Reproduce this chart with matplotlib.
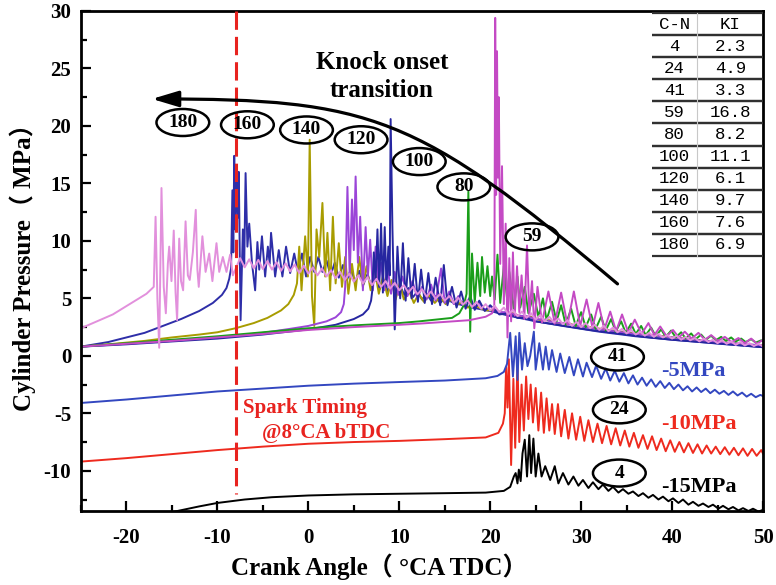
import numpy as np
import matplotlib
matplotlib.use("Agg")
import matplotlib.pyplot as plt
from matplotlib.patches import Ellipse, FancyArrowPatch
from matplotlib.path import Path

plt.rcParams['font.family'] = ['Liberation Serif', 'Noto Sans CJK SC']
plt.rcParams['font.weight'] = 'bold'
plt.rcParams['axes.labelweight'] = 'bold'
plt.rcParams['axes.unicode_minus'] = False

# ---- knock summary: cycle number and knock intensity ----
cycles = [4, 24, 41, 59, 80, 100, 120, 140, 160, 180]
knock_index = [2.3, 4.9, 3.3, 16.8, 8.2, 11.1, 6.1, 9.7, 7.6, 6.9]

spark_angle = -8   # spark timing, deg CA
shift = {4: -15, 24: -10, 41: -5}   # display offsets, MPa

# ---- pressure traces: (crank angle, MPa) ----
p180 = [(-25, 2.4), (-21.5, 3.6), (-17.8, 5.4), (-17.0, 6.0), (-16.8, 12.1), (-16.6, 5.0), (-16.4, 0.7),
        (-16.15, 14.6), (-15.9, 6.0), (-15.67, 3.7), (-15.45, 8.0), (-15.3, 9.5), (-15.05, 6.5), (-14.8, 10.9),
        (-14.6, 5.5), (-14.43, 3.1), (-14.2, 10.2), (-14.0, 6.5), (-13.77, 5.7), (-13.5, 11.7), (-13.25, 7.0),
        (-13.04, 6.6), (-12.7, 9.0), (-12.38, 12.7), (-12.2, 7.5), (-12.05, 6.0), (-11.65, 10.4), (-11.3, 7.3),
        (-10.9, 8.9), (-10.55, 6.5), (-10.1, 9.8), (-9.8, 7.3), (-9.4, 8.6), (-9.0, 7.3), (-8.6, 8.8),
        (-8.3, 7.0), (-7.5, 8.5), (-7, 7.7), (-6.5, 8.4), (-6, 7.6), (-5.5, 8.35), (-5, 7.55), (-4.5, 8.25),
        (-4, 7.5), (-3.5, 8.15), (-3, 7.4), (-2.5, 8.05), (-2, 7.35), (-1.5, 7.95), (-1, 7.2), (-0.5, 7.85),
        (0, 7.15), (0.5, 7.7), (1, 7.0), (1.5, 7.6), (2, 6.9), (2.5, 7.45), (3, 6.75), (3.5, 7.3), (4, 6.6),
        (4.5, 7.15), (5, 6.45), (5.5, 7.0), (6, 6.3), (6.5, 6.85), (7, 6.15), (7.5, 6.7), (8, 6.0),
        (8.5, 6.5), (9, 5.85), (9.5, 6.35), (10, 5.7), (10.5, 6.15), (11, 5.5), (11.5, 6.0), (12, 5.35),
        (12.5, 5.8), (13, 5.15), (13.5, 5.6), (14, 4.95), (14.5, 5.4), (15, 4.8), (15.5, 5.2), (16, 4.6),
        (16.5, 5.05), (17, 4.45), (17.5, 4.85), (18, 4.25), (18.5, 4.7), (19, 4.1), (19.5, 4.5), (20, 3.95),
        (20.5, 4.35), (21, 3.8), (21.5, 4.2), (22, 3.6), (22.5, 4.0), (23, 3.45), (23.5, 3.85), (24, 3.3),
        (24.5, 3.7), (25, 3.15), (25.5, 3.55), (26, 3.0), (26.5, 3.4), (27, 2.9), (27.5, 3.25), (28, 2.75),
        (28.5, 3.1), (29, 2.6), (29.5, 2.95), (30, 2.5), (30.5, 2.85), (31, 2.4), (31.5, 2.7), (32, 2.25),
        (32.5, 2.6), (33, 2.15), (33.5, 2.45), (34, 2.05), (34.5, 2.35), (35, 1.95), (35.5, 2.25), (36, 1.85),
        (36.5, 2.1), (37, 1.75), (37.5, 2.0), (38, 1.65), (38.5, 1.9), (39, 1.6), (39.5, 1.8), (40, 1.5),
        (40.5, 1.75), (41, 1.4), (41.5, 1.65), (42, 1.35), (42.5, 1.55), (43, 1.25), (43.5, 1.5), (44, 1.2),
        (44.5, 1.4), (45, 1.1), (45.5, 1.35), (46, 1.05), (46.5, 1.25), (47, 0.95), (47.5, 1.2), (48, 0.9),
        (48.5, 1.1), (49, 0.85), (49.5, 1.05), (50, 0.8)]

p160 = [(-25, 0.8), (-22, 1.2), (-20, 1.6), (-18, 2.0), (-16, 2.6), (-14, 3.2), (-12, 3.9), (-10.5, 4.6),
        (-9.5, 5.3), (-9.0, 5.9), (-8.7, 6.7), (-8.5, 7.6), (-8.35, 14.4), (-8.25, 9.0), (-8.15, 17.4),
        (-8.05, 11.0), (-7.9, 16.5), (-7.78, 12.0), (-7.65, 16.0), (-7.45, 3.1), (-7.2, 11.0), (-7.05, 8.0),
        (-6.9, 15.9), (-6.7, 9.5), (-6.5, 11.5), (-6.2, 8.1), (-5.85, 5.7), (-5.6, 9.9), (-5.4, 7.5),
        (-5.1, 10.4), (-4.75, 6.9), (-4.45, 9.5), (-4.25, 8.0), (-4.1, 10.7), (-3.65, 6.9), (-3.25, 9.2),
        (-2.85, 6.9), (-2.45, 9.5), (-2.0, 7.2), (-1.55, 8.9), (-1.15, 7.3), (-0.7, 8.9), (-0.25, 6.9),
        (0.2, 8.6), (0.65, 7.3), (1.1, 8.6), (1.55, 7.3), (2.0, 8.3), (2.45, 7.0), (2.9, 8.1), (3.35, 6.8),
        (3.8, 7.9), (4.25, 6.6), (4.7, 7.6), (5.15, 6.4), (5.6, 7.4), (6.05, 6.2), (6.5, 7.1), (6.95, 6.0),
        (7.4, 6.9), (7.85, 5.8), (8.3, 6.6), (8.75, 5.6), (9.2, 6.3), (9.65, 5.5), (10.1, 6.1), (10.55, 5.3),
        (11.0, 5.9), (11.5, 5.1), (12.0, 5.6), (12.5, 4.9), (13.0, 5.4), (13.5, 4.8), (14.0, 5.2), (14.5, 4.6),
        (15.0, 5.0), (16.0, 4.6), (17.0, 4.4), (18.0, 4.2), (20, 3.9), (22, 3.5), (25, 3.0), (28, 2.6),
        (32, 2.1), (36, 1.7), (40, 1.4), (44, 1.15), (47, 0.95), (50, 0.75)]

p140 = [(-25, 0.8), (-22, 1.0), (-20, 1.15), (-18, 1.3), (-15, 1.6), (-12, 1.85), (-10, 2.05), (-8, 2.4),
        (-6, 2.85), (-4.5, 3.3), (-3, 3.95), (-2.2, 4.5), (-1.6, 5.3), (-1.25, 6.3), (-1.0, 9.5), (-0.75, 5.7),
        (-0.35, 10.4), (-0.05, 6.9), (0.15, 18.8), (0.4, 5.2), (0.65, 2.6), (0.9, 11.0), (1.2, 8.6),
        (1.55, 13.3), (1.85, 6.9), (2.1, 10.7), (2.4, 5.7), (2.7, 12.1), (3.0, 6.3), (3.35, 9.8), (3.7, 6.0),
        (4.05, 8.6), (4.4, 5.4), (4.8, 8.0), (5.2, 5.7), (5.6, 8.6), (6.0, 6.0), (6.4, 7.8), (6.85, 5.7),
        (7.3, 7.5), (7.75, 5.4), (8.2, 6.9), (8.7, 5.2), (9.15, 6.6), (9.6, 4.9), (10.05, 6.3), (10.5, 4.9),
        (11.05, 5.7), (11.6, 4.6), (12.15, 5.4), (12.7, 4.7), (13.3, 5.3), (13.9, 4.6), (14.5, 5.1),
        (15.1, 4.5), (15.7, 4.9), (16.3, 4.4), (16.9, 4.7), (17.5, 4.2), (18.5, 4.3), (19.5, 3.95),
        (20.5, 4.0), (21.5, 3.7), (22.5, 3.7), (23.5, 3.4), (24.5, 3.4), (25.5, 3.1), (26.5, 3.1),
        (27.5, 2.85), (28.5, 2.85), (29.5, 2.6), (31, 2.5), (32.5, 2.3), (34, 2.15), (35.5, 2.0), (37, 1.85),
        (38.5, 1.75), (40, 1.6), (42, 1.45), (44, 1.3), (46, 1.15), (48, 1.0), (50, 0.9)]

p120 = [(-25, 0.8), (-20, 1.05), (-15, 1.3), (-10, 1.6), (-5, 2.0), (-2, 2.35), (0, 2.6), (2, 3.0),
        (3, 3.35), (3.6, 3.8), (3.9, 4.5), (4.05, 6.0), (4.15, 9.2), (4.3, 14.7), (4.55, 6.9), (4.8, 13.6),
        (5.0, 9.2), (5.2, 15.6), (5.45, 8.1), (5.7, 12.1), (6.0, 5.7), (6.3, 11.2), (6.55, 6.9), (6.8, 10.1),
        (7.1, 5.7), (7.4, 9.5), (7.7, 6.3), (8.0, 8.1), (8.35, 5.7), (8.7, 7.8), (9.1, 5.4), (9.5, 7.3),
        (9.9, 5.3), (10.35, 6.9), (10.9, 5.2), (11.45, 6.5), (12.0, 5.0), (12.5, 6.0), (13.0, 4.9),
        (13.5, 6.2), (14.0, 4.8), (14.6, 7.6), (15.0, 4.6), (15.5, 5.6), (16.0, 4.5), (16.5, 5.2), (17.0, 4.4),
        (17.6, 4.9), (18.2, 4.2), (18.8, 4.6), (19.4, 4.0), (20.0, 4.3), (21, 3.8), (22, 3.8), (23, 3.5),
        (24, 3.45), (25, 3.2), (26, 3.15), (27, 2.9), (28, 2.85), (30, 2.55), (32, 2.3), (34, 2.1),
        (36, 1.9), (38, 1.75), (40, 1.6), (43, 1.35), (46, 1.15), (50, 0.9)]

p100 = [(-25, 0.8), (-20, 1.0), (-15, 1.25), (-10, 1.5), (-5, 1.85), (0, 2.3), (3, 2.7), (5, 3.2),
        (6, 3.6), (6.6, 4.1), (6.9, 4.8), (7.05, 5.8), (7.2, 9.0), (7.4, 6.5), (7.6, 11.0), (7.8, 6.0),
        (8.0, 11.5), (8.2, 5.5), (8.4, 11.2), (8.6, 6.0), (8.8, 9.5), (8.95, 7.0), (9.05, 20.6), (9.25, 11.0),
        (9.5, 2.3), (9.8, 9.5), (10.1, 5.0), (10.4, 9.8), (10.7, 4.8), (11.0, 8.5), (11.35, 5.0), (11.7, 8.0),
        (12.05, 4.7), (12.4, 7.5), (12.8, 4.6), (13.2, 7.2), (13.6, 4.5), (14.0, 6.8), (14.5, 4.4),
        (14.9, 7.9), (15.3, 4.4), (15.8, 6.0), (16.3, 4.2), (16.8, 5.6), (17.3, 4.1), (17.8, 5.2), (18.3, 4.0),
        (18.8, 4.8), (19.4, 3.9), (20.0, 4.4), (21, 3.6), (22, 3.7), (23, 3.3), (24, 3.3), (25, 3.0),
        (27, 2.75), (29, 2.5), (31, 2.25), (34, 1.95), (37, 1.65), (40, 1.4), (43, 1.2), (46, 1.0), (50, 0.75)]

p80 = [(-25, 0.8), (-20, 1.1), (-15, 1.4), (-10, 1.7), (-5, 2.05), (0, 2.4), (5, 2.65), (10, 2.85),
       (12.2, 3.0), (15.8, 3.3), (16.6, 3.7), (17.1, 4.4), (17.4, 5.4), (17.6, 14.3), (17.8, 2.1), (18.0, 8.9),
       (18.3, 4.6), (18.6, 8.1), (18.9, 5.2), (19.1, 8.6), (19.4, 5.5), (19.7, 7.8), (20.0, 5.2), (20.2, 6.9),
       (20.5, 4.9), (20.8, 8.8), (21.1, 4.6), (21.5, 7.8), (21.9, 4.6), (22.1, 7.3), (22.6, 4.0), (23.0, 6.9),
       (23.3, 4.2), (23.8, 6.0), (24.2, 3.7), (24.8, 5.4), (25.3, 3.4), (25.8, 5.0), (26.2, 3.1), (26.8, 4.7),
       (27.3, 3.0), (27.8, 4.4), (28.3, 2.7), (28.9, 4.1), (29.4, 2.6), (30.0, 3.8), (30.5, 2.5), (31.1, 3.6),
       (31.6, 2.35), (32.2, 3.4), (32.7, 2.2), (33.3, 3.2), (33.8, 2.1), (34.4, 3.0), (34.9, 2.0), (35.5, 2.8),
       (36.0, 1.9), (36.6, 2.6), (37.1, 1.8), (37.7, 2.45), (38.2, 1.7), (38.8, 2.3), (39.3, 1.65),
       (39.9, 2.2), (40.4, 1.6), (41.0, 2.05), (41.5, 1.5), (42.1, 1.95), (42.6, 1.45), (43.2, 1.85),
       (43.7, 1.4), (44.3, 1.75), (44.8, 1.35), (45.4, 1.65), (45.9, 1.3), (46.5, 1.6), (47.0, 1.25),
       (47.6, 1.5), (48.1, 1.2), (48.7, 1.45), (49.2, 1.15), (49.8, 1.35), (50, 1.3)]

p59 = [(-25, 0.8), (-20, 1.05), (-15, 1.3), (-10, 1.6), (-5, 1.9), (0, 2.25), (5, 2.5), (10, 2.7),
       (12.2, 2.8), (15, 2.95), (17.7, 3.1), (19.5, 3.4), (20.2, 3.7), (20.45, 4.2), (20.55, 29.4),
       (20.65, 14.0), (20.75, 26.5), (20.85, 15.5), (20.95, 22.5), (21.1, 8.0), (21.3, 16.5), (21.5, 4.5),
       (21.7, 11.5), (21.9, 1.6), (22.1, 8.5), (22.3, 3.0), (22.5, 9.0), (22.7, 3.5), (22.95, 7.8),
       (23.2, 3.8), (23.45, 7.0), (23.75, 3.2), (24.05, 9.6), (24.3, 3.5), (24.6, 6.5), (24.85, 2.4),
       (25.2, 6.0), (25.7, 2.9), (26.4, 5.6), (27.1, 2.8), (27.8, 5.5), (28.5, 2.7), (29.2, 5.6), (29.9, 2.6),
       (30.6, 4.9), (31.25, 2.45), (31.9, 4.6), (32.55, 2.3), (33.2, 3.85), (33.85, 2.15), (34.5, 3.6),
       (35.2, 2.0), (35.9, 3.15), (36.65, 1.9), (37.4, 2.85), (38.05, 1.8), (38.7, 2.55), (39.4, 1.7),
       (40.1, 2.25), (40.75, 1.6), (41.4, 2.1), (42.15, 1.5), (42.9, 2.0), (43.6, 1.4), (44.3, 1.8),
       (45.05, 1.3), (45.8, 1.65), (46.55, 1.2), (47.3, 1.55), (48.0, 1.1), (48.7, 1.5), (49.35, 1.05),
       (50.0, 1.4)]

p41 = [(-25, 0.9), (-20, 1.2), (-15, 1.55), (-10, 1.9), (-5, 2.15), (0, 2.4), (5, 2.58), (10, 2.72),
       (15, 2.85), (19.5, 3.05), (20.8, 3.25), (21.5, 3.6), (21.85, 4.3), (22.2, 7.0), (22.5, 3.2), (22.8, 6.7),
       (23.0, 2.9), (23.2, 7.0), (23.5, 3.8), (23.8, 6.1), (24.1, 4.1), (24.4, 5.0), (24.8, 7.1), (25.0, 3.8),
       (25.4, 6.1), (25.8, 3.8), (26.1, 5.8), (26.45, 3.8), (26.8, 5.5), (27.3, 3.6), (27.7, 5.2), (28.2, 3.5),
       (28.7, 4.9), (29.2, 3.3), (29.65, 4.7), (30.2, 3.2), (30.6, 4.4), (31.2, 3.15), (31.65, 4.15),
       (32.2, 3.0), (32.7, 3.9), (33.2, 2.85), (33.7, 3.7), (34.2, 2.75), (34.7, 3.5), (35.2, 2.6), (35.7, 3.3),
       (36.2, 2.5), (36.7, 3.1), (37.2, 2.4), (37.7, 2.95), (38.2, 2.3), (38.7, 2.8), (39.2, 2.2), (39.7, 2.65),
       (40.2, 2.1), (40.7, 2.5), (41.2, 2.0), (41.7, 2.35), (42.2, 1.9), (42.7, 2.25), (43.2, 1.85),
       (43.7, 2.15), (44.2, 1.75), (44.7, 2.05), (45.2, 1.7), (45.7, 1.95), (46.2, 1.6), (46.7, 1.9),
       (47.2, 1.55), (47.7, 1.8), (48.2, 1.45), (48.7, 1.7), (49.2, 1.4), (49.7, 1.6), (50, 1.5)]

p24 = [(-25, 0.8), (-20, 1.1), (-15, 1.45), (-10, 1.8), (-5, 2.1), (0, 2.35), (5, 2.5), (10, 2.6),
       (15, 2.75), (19.5, 2.9), (20.9, 3.3), (21.4, 4.1), (21.6, 5.0), (21.75, 9.0), (21.9, 5.5), (22.05, 9.7),
       (22.3, 0.5), (22.55, 8.0), (22.75, 2.0), (23.0, 9.5), (23.2, 2.5), (23.45, 7.5), (23.7, 3.5),
       (23.95, 8.2), (24.2, 4.5), (24.45, 7.5), (24.7, 4.2), (25.0, 7.2), (25.3, 3.5), (25.6, 6.8), (25.9, 3.3),
       (26.2, 6.3), (26.5, 3.5), (26.8, 5.8), (27.1, 3.2), (27.45, 5.8), (27.8, 3.0), (28.2, 5.3), (28.6, 2.8),
       (29.0, 5.0), (29.45, 2.7), (29.9, 4.7), (30.35, 2.6), (30.8, 4.4), (31.3, 2.5), (31.8, 4.1), (32.3, 2.4),
       (32.8, 3.9), (33.3, 2.3), (33.8, 3.7), (34.3, 2.2), (34.8, 3.5), (35.3, 2.1), (35.8, 3.3), (36.3, 2.0),
       (36.8, 3.1), (37.3, 1.9), (37.8, 3.0), (38.3, 1.8), (38.8, 2.8), (39.3, 1.7), (39.8, 2.65), (40.3, 1.65),
       (40.8, 2.5), (41.3, 1.6), (41.8, 2.4), (42.3, 1.55), (42.8, 2.3), (43.3, 1.5), (43.8, 2.2), (44.3, 1.5),
       (44.8, 2.1), (45.3, 1.45), (45.8, 2.05), (46.3, 1.4), (46.8, 2.0), (47.3, 1.35), (47.8, 1.95),
       (48.3, 1.3), (48.8, 1.9), (49.3, 1.3), (49.8, 1.8), (50, 1.5)]

p4 = [(-25, 0.4), (-20, 0.9), (-15, 1.4), (-12, 1.9), (-10, 2.2), (-7, 2.5), (-4, 2.7), (0, 2.85), (5, 2.95),
      (10, 3.0), (15, 3.05), (19.5, 3.1), (21.5, 3.25), (22.2, 3.6), (22.6, 4.5), (22.8, 4.8), (23.0, 3.9),
      (23.15, 5.1), (23.35, 4.1), (23.55, 6.5), (23.8, 7.7), (24.05, 4.5), (24.3, 8.1), (24.5, 4.8),
      (24.75, 7.8), (25.0, 4.5), (25.3, 6.5), (25.65, 4.5), (26.05, 5.4), (26.6, 4.2), (27.1, 5.4), (27.5, 3.9),
      (28.0, 4.8), (28.6, 3.8), (29.15, 4.5), (29.7, 3.7), (30.2, 4.2), (30.8, 3.5), (31.3, 4.0), (31.9, 3.4),
      (32.4, 3.8), (33.0, 3.25), (33.5, 3.6), (34.1, 3.1), (34.6, 3.4), (35.2, 3.0), (35.7, 3.2), (36.3, 2.8),
      (36.8, 3.05), (37.4, 2.65), (37.9, 2.9), (38.5, 2.5), (39.0, 2.75), (39.6, 2.35), (40.1, 2.6),
      (40.7, 2.2), (41.2, 2.5), (41.8, 2.05), (42.3, 2.3), (42.9, 1.95), (43.4, 2.15), (44.0, 1.85),
      (44.5, 2.05), (45.1, 1.7), (45.6, 1.95), (46.2, 1.65), (46.7, 1.85), (47.3, 1.55), (47.8, 1.75),
      (48.4, 1.5), (48.9, 1.7), (49.5, 1.45), (50, 1.6)]

traces = {
    4: (p4, 'black'),
    24: (p24, '#EE2A1E'),
    41: (p41, '#3347C0'),
    160: (p160, '#2E2EA8'),
    140: (p140, '#A89C00'),
    120: (p120, '#9B45D8'),
    100: (p100, '#2626A0'),
    80: (p80, '#1A9E1A'),
    59: (p59, '#C44AC4'),
    180: (p180, '#E290DC'),
}

# where each cycle tag sits (deg CA, MPa)
tag_xy = {180: (-13.8, 20.3), 160: (-6.7, 20.1), 140: (-0.2, 19.65), 120: (5.8, 18.8),
          100: (12.2, 16.9), 80: (17.1, 14.7), 59: (24.6, 10.35), 41: (34.0, -0.1),
          24: (34.2, -4.7), 4: (34.2, -10.2)}

fig = plt.figure(figsize=(7.76, 5.85), dpi=100)
ax = fig.add_axes([81 / 776, 1 - 511 / 585, 682 / 776, 500 / 585])

for cyc, (pts, col) in traces.items():
    a, p = np.array(pts).T
    ax.plot(a, p + shift.get(cyc, 0), color=col, lw=1.4, zorder=2)

# spark timing marker
ax.plot([spark_angle, spark_angle], [30, -12], color='#E8231F', lw=2.2,
        dashes=(6, 2.3), zorder=3)
ax.text(-7.2, -4.5, 'Spark Timing', color='#E8231F', fontsize=15, va='center')
ax.text(-5.1, -6.7, '@8°CA bTDC', color='#E8231F', fontsize=15, va='center')

# cycle tags
for cyc, (tx, ty) in tag_xy.items():
    ax.add_patch(Ellipse((tx, ty), 5.8, 2.35, fill=False, lw=1.8, ec='black', zorder=4))
    ax.text(tx, ty, str(cyc), ha='center', va='center', fontsize=14, zorder=5)

for cyc, col in [(41, '#3347C0'), (24, '#EE2A1E'), (4, 'black')]:
    ax.text(38.8, tag_xy[cyc][1] - 1.2, '%dMPa' % shift[cyc], color=col,
            fontsize=16, va='center', ha='left')

# knock onset transition arrow
verts = [(34.0, 6.26), (11.95, 20.96), (6.8, 22.35), (-17.2, 22.35)]
codes = [Path.MOVETO, Path.CURVE4, Path.CURVE4, Path.CURVE4]
arrow = FancyArrowPatch(path=Path(verts, codes), arrowstyle='-|>,head_length=0.4,head_width=0.12',
                        mutation_scale=40, lw=2.3, color='black', zorder=4)
ax.add_patch(arrow)
ax.text(8.1, 24.3, 'Knock onset\ntransition', ha='center', va='center',
        fontsize=18, linespacing=1.3)

# knock intensity table
rows = [[str(c), '%.1f' % k] for c, k in zip(cycles, knock_index)]
tb = ax.table(cellText=rows, colLabels=['C-N', 'KI'], cellLoc='center',
              colWidths=[0.41, 0.59], bbox=[0.837, 0.51, 0.163, 0.486],
              edges='horizontal', zorder=6)
tb.auto_set_font_size(False)
tb.set_fontsize(12.5)
for (r, c), cell in tb.get_celld().items():
    cell.set_linewidth(1.6)
    cell.set_edgecolor('#303030')
    cell.get_text().set_fontfamily('Liberation Mono')
    cell.get_text().set_fontweight('normal')
    if r == 0:
        cell.set_facecolor('#D2D2D2')
ax.plot([0.837 + 0.163 * 0.41] * 2, [0.51, 0.996], color='#C8C8C8', lw=0.8,
        transform=ax.transAxes, zorder=7)

ax.set_xlim(-25, 50)
ax.set_ylim(-13.5, 30)
ax.set_xticks(range(-20, 51, 10))
ax.set_xticks(range(-25, 51, 5), minor=True)
ax.set_yticks(range(-10, 31, 5))
ax.set_yticks(np.arange(-12.5, 30, 2.5), minor=True)
ax.tick_params(which='both', direction='in', width=1.6, top=False, right=False)
ax.tick_params(which='major', length=7, labelsize=15)
ax.tick_params(which='minor', length=4.5)
ax.tick_params(axis='x', pad=12)
ax.tick_params(axis='y', pad=7)
for lab in ax.get_xticklabels() + ax.get_yticklabels():
    lab.set_fontweight('bold')
for s in ax.spines.values():
    s.set_linewidth(2)

ax.set_xlabel('Crank Angle（ °CA TDC）', fontsize=18, fontweight='bold')
ax.xaxis.set_label_coords(0.438, -0.085)
ax.xaxis.label.set_va('top')
ax.set_ylabel('Cylinder Pressure（ MPa）', fontsize=18, fontweight='bold')
ax.yaxis.set_label_coords(-0.085, 0.5)
ax.yaxis.label.set_va('center')

fig.savefig('out.png', dpi=100)
